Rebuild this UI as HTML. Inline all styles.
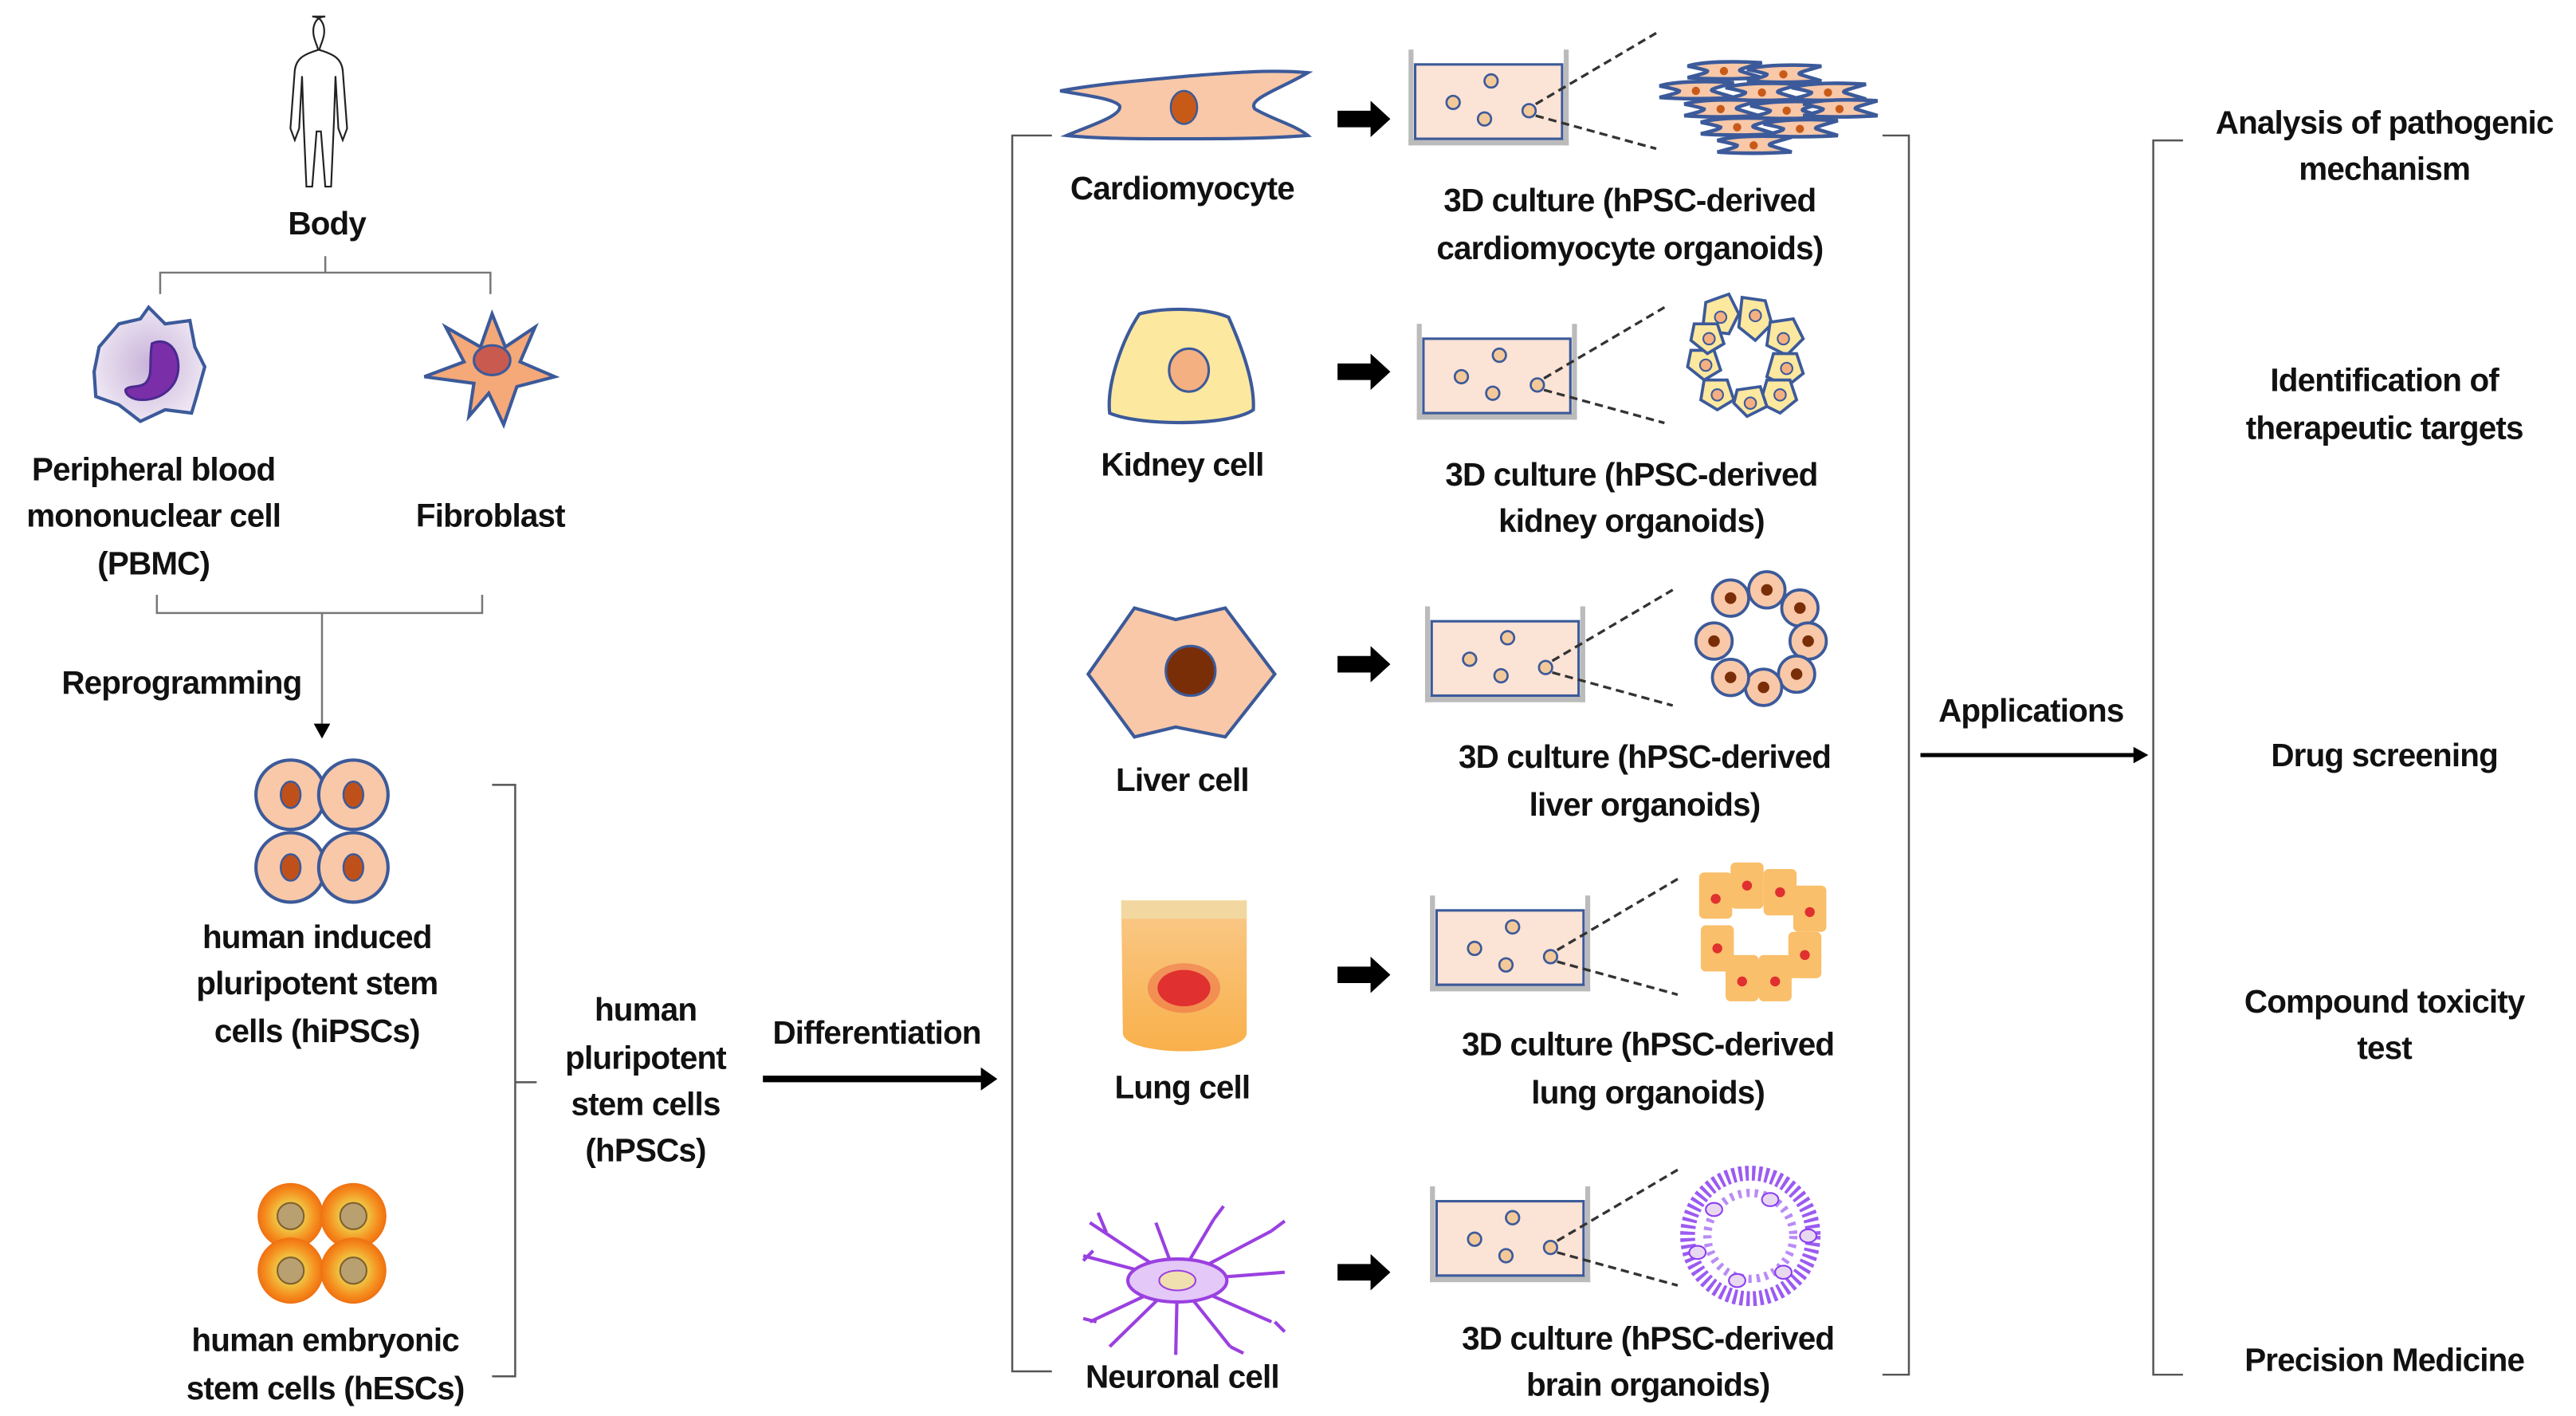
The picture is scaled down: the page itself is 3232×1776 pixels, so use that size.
<!DOCTYPE html>
<html><head><meta charset="utf-8"><style>
html,body{margin:0;padding:0;background:#fff;}
svg{display:block;}
text{font-family:"Liberation Sans Narrow","Liberation Sans",sans-serif;font-weight:bold;font-size:19.5px;letter-spacing:-0.4px;fill:#111;text-anchor:middle;dominant-baseline:central;}
</style></head><body>
<svg width="3232" height="1776" viewBox="0 0 1560 857" preserveAspectRatio="none" xmlns="http://www.w3.org/2000/svg">
<defs>
<g id="dish">
<rect x="0" y="0" width="3" height="58" fill="#bbb"/>
<rect x="94" y="0" width="3" height="58" fill="#bbb"/>
<rect x="0" y="54" width="97" height="4" fill="#bbb"/>
<rect x="4" y="9" width="89" height="45" fill="#fbe3d6" stroke="#3c5a9a" stroke-width="1.5"/>
<g fill="#f4c99a" stroke="#3c5a9a" stroke-width="1.3">
<circle cx="27" cy="32" r="4"/><circle cx="50" cy="19" r="4"/><circle cx="46" cy="42" r="4"/><circle cx="73" cy="37" r="4"/>
</g>
<path d="M77 33 L150 -10 M77 40 L150 60" stroke="#333" stroke-width="1.6" stroke-dasharray="5 3" fill="none"/>
</g>
<g id="barrow"><path d="M0 -5 H20 V-11 L32 0 L20 11 V5 H0 Z" fill="#000"/></g>
<g id="cm"><path d="M0 0 C10 -3 30 -3 45 -2 C35 1 30 2 32 3 C38 5 42 6 45 7 C30 8 12 8 0 7 C8 5 12 4 12 3 C10 2 5 1 0 0 Z" fill="#f8c8a8" stroke="#3c5a9a" stroke-width="2.2"/><circle cx="22" cy="3" r="2.5" fill="#c85a18"/></g>
<radialGradient id="esc"><stop offset="0" stop-color="#c8a060"/><stop offset="0.45" stop-color="#f0c040"/><stop offset="0.75" stop-color="#f59020"/><stop offset="1" stop-color="#f07010"/></radialGradient>
<radialGradient id="pb"><stop offset="0" stop-color="#c9b3d9"/><stop offset="1" stop-color="#ece4f2"/></radialGradient>
<linearGradient id="lung" x1="0" y1="0" x2="0" y2="1"><stop offset="0" stop-color="#f9c98a"/><stop offset="1" stop-color="#f9b04a"/></linearGradient>
</defs>

<!-- body figure -->
<g transform="translate(197 10) scale(0.88) translate(-197 -12)">
<path d="M197 12 c-7 0 -9 7 -8 13 c1 5 3 8 3 10 c-10 3 -15 6 -16 14 l-3 40 l3 8 l3 -8 l2 -36 l1 30 l2 46 l4 0 l3 -38 l3 0 l3 38 l4 0 l2 -46 l1 -30 l2 36 l3 8 l3 -8 l-3 -40 c-1 -8 -6 -11 -16 -14 c0 -2 2 -5 3 -10 c1 -6 -1 -13 -8 -13 z" fill="#fff" stroke="#222" stroke-width="1.2"/>
</g>
<text x="198" y="135">Body</text>
<path d="M197 155 V165 M97 178 V165 H297 V178" stroke="#777" stroke-width="1.2" fill="none"/>

<!-- PBMC -->
<path d="M72 196 L85 193 L90 186 L100 196 L115 194 L118 210 L124 222 L119 240 L116 250 L100 248 L85 255 L72 245 L58 240 L57 225 L60 210 Z" fill="url(#pb)" stroke="#3c5a9a" stroke-width="2"/>
<path d="M92 208 c8 -4 16 2 16 14 c0 12 -10 20 -22 20 c-6 0 -10 -3 -10 -6 c2 -3 8 -1 12 -4 c5 -5 2 -12 4 -24 z" fill="#7a2fa8" stroke="#4a2a90" stroke-width="1.5"/>
<!-- Fibroblast -->
<path d="M298 190 L306 210 L324 198 L315 219 L336 228 L313 234 L305 257 L296 238 L284 252 L287 232 L257 228 L281 219 L270 198 L291 210 Z" fill="#f5a878" stroke="#3c5a9a" stroke-width="2"/>
<ellipse cx="298" cy="218" rx="11" ry="9" fill="#c85a50" stroke="#3c5a9a" stroke-width="1.5"/>

<text x="93" y="284">Peripheral blood</text>
<text x="93" y="312">mononuclear cell</text>
<text x="93" y="341">(PBMC)</text>
<text x="297" y="312">Fibroblast</text>
<path d="M95 360 V371 H292 V360 M195 371 V440" stroke="#777" stroke-width="1.2" fill="none"/>
<path d="M190 438 L195 447 L200 438 Z" fill="#000"/>
<text x="110" y="413">Reprogramming</text>

<!-- hiPSC -->
<g fill="#f8c8a8" stroke="#3c5a9a" stroke-width="2">
<circle cx="176" cy="481" r="21"/><circle cx="214" cy="481" r="21"/><circle cx="176" cy="525" r="21"/><circle cx="214" cy="525" r="21"/>
</g>
<g fill="#c0501a" stroke="#3c5a9a" stroke-width="1.2">
<ellipse cx="176" cy="481" rx="6" ry="8"/><ellipse cx="214" cy="481" rx="6" ry="8"/><ellipse cx="176" cy="525" rx="6" ry="8"/><ellipse cx="214" cy="525" rx="6" ry="8"/>
</g>
<text x="192" y="567">human induced</text>
<text x="192" y="595">pluripotent stem</text>
<text x="192" y="624">cells (hiPSCs)</text>

<!-- hESC -->
<g fill="url(#esc)"><circle cx="176" cy="736" r="20"/><circle cx="214" cy="736" r="20"/><circle cx="176" cy="769" r="20"/><circle cx="214" cy="769" r="20"/></g>
<g fill="#b8a070" stroke="#806030" stroke-width="1"><circle cx="176" cy="736" r="8"/><circle cx="214" cy="736" r="8"/><circle cx="176" cy="769" r="8"/><circle cx="214" cy="769" r="8"/></g>
<text x="197" y="811">human embryonic</text>
<text x="197" y="840">stem cells (hESCs)</text>

<path d="M298 475 H312 V833 H298 M312 655 H325" stroke="#555" stroke-width="1.2" fill="none"/>
<text x="391" y="611">human</text>
<text x="391" y="640">pluripotent</text>
<text x="391" y="668">stem cells</text>
<text x="391" y="696">(hPSCs)</text>
<text x="531" y="625">Differentiation</text>
<path d="M462 653 H596" stroke="#000" stroke-width="4"/>
<path d="M594 646 L604 653 L594 660 Z" fill="#000"/>

<path d="M637 82 H613 V830 H637" stroke="#555" stroke-width="1.2" fill="none"/>

<!-- cardiomyocyte -->
<path d="M642 55 C670 50 700 48 720 46 C745 44 770 42 792 44 C775 54 755 60 760 66 C770 72 785 76 792 82 C765 84 740 84 715 84 C690 84 665 84 646 82 C660 76 680 70 678 64 C675 60 660 58 642 55 Z" fill="#f8c8a8" stroke="#3c5a9a" stroke-width="2"/>
<ellipse cx="717" cy="65" rx="8" ry="10" fill="#c85a18" stroke="#3c5a9a" stroke-width="1.2"/>
<text x="716" y="114">Cardiomyocyte</text>
<!-- kidney -->
<path d="M690 190 C705 186 730 186 744 192 C752 210 760 232 759 248 C745 258 690 258 672 250 C670 232 680 205 690 190 Z" fill="#fde8a0" stroke="#3c5a9a" stroke-width="2"/>
<ellipse cx="720" cy="224" rx="12" ry="13" fill="#f4b080" stroke="#3c5a9a" stroke-width="1.5"/>
<text x="716" y="281">Kidney cell</text>
<!-- liver -->
<path d="M687 368 L712 375 L742 368 L772 408 L742 446 L712 440 L687 446 L659 408 Z" fill="#f8c8a8" stroke="#3c5a9a" stroke-width="2"/>
<circle cx="721" cy="406" r="15" fill="#7a2e08" stroke="#3c5a9a" stroke-width="1.5"/>
<text x="716" y="472">Liver cell</text>
<!-- lung -->
<path d="M679 545 H755 V625 C755 640 680 640 680 625 Z" fill="url(#lung)"/>
<path d="M679 545 H755 V556 H679 Z" fill="#f2d8a0"/>
<ellipse cx="717" cy="598" rx="22" ry="15" fill="#e03030" opacity="0.3"/>
<ellipse cx="717" cy="598" rx="16" ry="11" fill="#e03030"/>
<text x="716" y="658">Lung cell</text>
<!-- neuron -->
<g stroke="#9a40e0" stroke-width="2" fill="none">
<path d="M713 775 L660 740 M713 775 L656 760 M713 775 L660 800 M713 775 L672 815 M713 775 L700 740 M713 775 L735 738 M713 775 L770 745 M713 775 L778 770 M713 775 L770 800 M713 775 L745 815 M713 775 L712 820"/>
<path d="M670 746 l-5 -12 M662 757 l-6 6 M664 800 l-8 -2 M735 738 l6 -8 M770 745 l8 -6 M772 800 l6 6 M745 815 l8 4"/>
</g>
<ellipse cx="713" cy="775" rx="30" ry="13" fill="#e4c8f8" stroke="#9a40e0" stroke-width="2"/>
<ellipse cx="713" cy="775" rx="11" ry="6" fill="#f0e0b0" stroke="#9a40e0" stroke-width="1"/>
<text x="716" y="833">Neuronal cell</text>

<!-- arrows -->
<use href="#barrow" x="810" y="72"/>
<use href="#barrow" x="810" y="225"/>
<use href="#barrow" x="810" y="402"/>
<use href="#barrow" x="810" y="590"/>
<use href="#barrow" x="810" y="770"/>

<!-- dishes -->
<use href="#dish" x="853" y="30"/>
<use href="#dish" x="858" y="196"/>
<use href="#dish" x="863" y="367"/>
<use href="#dish" x="866" y="542"/>
<use href="#dish" x="866" y="718"/>

<!-- cardiomyocyte organoid -->
<use href="#cm" x="1022" y="40"/><use href="#cm" x="1058" y="42"/>
<use href="#cm" x="1005" y="52"/><use href="#cm" x="1045" y="53"/><use href="#cm" x="1085" y="53"/>
<use href="#cm" x="1020" y="63"/><use href="#cm" x="1060" y="64"/><use href="#cm" x="1092" y="63"/>
<use href="#cm" x="1030" y="74"/><use href="#cm" x="1068" y="75"/>
<use href="#cm" x="1040" y="85"/>

<g fill="#fde8a0" stroke="#3c5a9a" stroke-width="1.8">
<path d="M1033 183 l14 -5 l6 12 l-6 12 l-16 -2 z"/><path d="M1055 180 l14 2 l4 14 l-10 10 l-10 -8 z"/>
<path d="M1072 195 l14 -2 l6 12 l-10 10 l-12 -6 z"/><path d="M1074 214 l14 0 l4 12 l-10 8 l-12 -6 z"/>
<path d="M1070 230 l14 0 l4 12 l-10 8 l-12 -6 z"/><path d="M1052 236 l14 -2 l4 12 l-12 6 l-8 -8 z"/>
<path d="M1032 230 l14 0 l4 12 l-10 6 l-10 -6 z"/><path d="M1024 212 l14 0 l4 12 l-10 6 l-10 -8 z"/><path d="M1026 196 l14 0 l4 12 l-10 6 l-10 -8 z"/>
</g>
<g fill="#f4b080" stroke="#3c5a9a" stroke-width="1"><circle cx="1042" cy="192" r="3.5"/><circle cx="1063" cy="191" r="3.5"/><circle cx="1080" cy="205" r="3.5"/><circle cx="1082" cy="223" r="3.5"/><circle cx="1078" cy="239" r="3.5"/><circle cx="1060" cy="244" r="3.5"/><circle cx="1040" cy="239" r="3.5"/><circle cx="1033" cy="221" r="3.5"/><circle cx="1035" cy="205" r="3.5"/></g>

<g fill="#f8c8a8" stroke="#3c5a9a" stroke-width="1.8">
<circle cx="1048" cy="362" r="11"/><circle cx="1070" cy="357" r="11"/><circle cx="1090" cy="368" r="11"/><circle cx="1095" cy="388" r="11"/><circle cx="1088" cy="408" r="11"/><circle cx="1068" cy="416" r="11"/><circle cx="1048" cy="410" r="11"/><circle cx="1038" cy="388" r="11"/>
</g>
<g fill="#7a2e08"><circle cx="1048" cy="362" r="3.5"/><circle cx="1070" cy="357" r="3.5"/><circle cx="1090" cy="368" r="3.5"/><circle cx="1095" cy="388" r="3.5"/><circle cx="1088" cy="408" r="3.5"/><circle cx="1068" cy="416" r="3.5"/><circle cx="1048" cy="410" r="3.5"/><circle cx="1038" cy="388" r="3.5"/></g>

<g fill="#f9bf6a"><rect x="1029" y="528" width="20" height="28" rx="3"/><rect x="1048" y="522" width="20" height="28" rx="3"/><rect x="1068" y="526" width="20" height="28" rx="3"/><rect x="1086" y="536" width="20" height="28" rx="3"/><rect x="1083" y="564" width="20" height="28" rx="3"/><rect x="1065" y="578" width="20" height="28" rx="3"/><rect x="1045" y="578" width="20" height="28" rx="3"/><rect x="1030" y="560" width="20" height="28" rx="3"/></g>
<g fill="#e03030"><circle cx="1039" cy="544" r="3"/><circle cx="1058" cy="536" r="3"/><circle cx="1078" cy="540" r="3"/><circle cx="1096" cy="552" r="3"/><circle cx="1093" cy="578" r="3"/><circle cx="1075" cy="594" r="3"/><circle cx="1055" cy="594" r="3"/><circle cx="1040" cy="574" r="3"/></g>

<!-- brain organoid -->
<g stroke="#8a3ef0" stroke-width="1.5" fill="none">
<circle cx="1060" cy="748" r="38" stroke-dasharray="2 2" stroke-width="9" opacity="0.85"/>
<circle cx="1060" cy="748" r="26" stroke-dasharray="2 3" stroke-width="5" opacity="0.6"/>
</g>
<g fill="#e8d8f0" stroke="#8a3ef0" stroke-width="1"><ellipse cx="1038" cy="732" rx="5" ry="4"/><ellipse cx="1072" cy="726" rx="5" ry="4"/><ellipse cx="1095" cy="748" rx="5" ry="4"/><ellipse cx="1080" cy="770" rx="5" ry="4"/><ellipse cx="1052" cy="775" rx="5" ry="4"/><ellipse cx="1028" cy="758" rx="5" ry="4"/></g>

<text x="987" y="121">3D culture  (hPSC-derived</text>
<text x="987" y="150">cardiomyocyte organoids)</text>
<text x="988" y="287">3D culture  (hPSC-derived</text>
<text x="988" y="315">kidney organoids)</text>
<text x="996" y="458">3D culture  (hPSC-derived</text>
<text x="996" y="487">liver organoids)</text>
<text x="998" y="632">3D culture  (hPSC-derived</text>
<text x="998" y="661">lung organoids)</text>
<text x="998" y="810">3D culture  (hPSC-derived</text>
<text x="998" y="838">brain organoids)</text>

<path d="M1140 82 H1156 V832 H1140" stroke="#555" stroke-width="1.2" fill="none"/>
<text x="1230" y="430">Applications</text>
<path d="M1163 457 H1294" stroke="#000" stroke-width="2.5"/>
<path d="M1292 452 L1301 457 L1292 462 Z" fill="#000"/>
<path d="M1322 85 H1304 V832 H1322" stroke="#555" stroke-width="1.2" fill="none"/>

<text x="1444" y="74">Analysis of pathogenic</text>
<text x="1444" y="102">mechanism</text>
<text x="1444" y="230">Identification of</text>
<text x="1444" y="259">therapeutic targets</text>
<text x="1444" y="457">Drug screening</text>
<text x="1444" y="606">Compound toxicity</text>
<text x="1444" y="634">test</text>
<text x="1444" y="823">Precision Medicine</text>
</svg>
</body></html>
